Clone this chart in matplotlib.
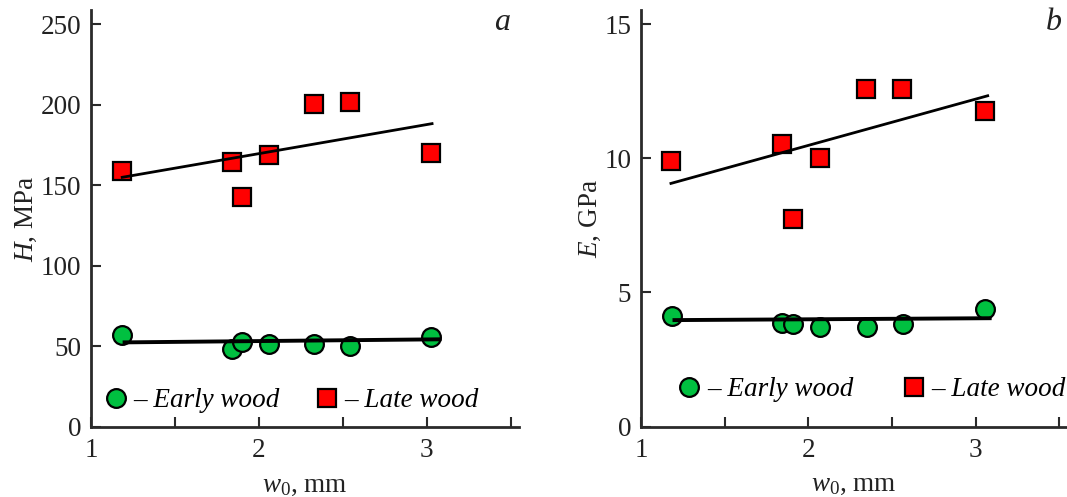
import numpy as np
import matplotlib
matplotlib.use("Agg")
import matplotlib.pyplot as plt

plt.rcParams['font.family'] = ['Liberation Serif', 'DejaVu Serif']
plt.rcParams['mathtext.fontset'] = 'custom'
plt.rcParams['mathtext.rm'] = 'Liberation Serif'
plt.rcParams['mathtext.it'] = 'Liberation Serif:italic'

# Panel a: hardness H (MPa) vs w0 (mm)
w0_H_early = [1.186, 1.841, 1.901, 2.061, 2.326, 2.546, 3.028]
H_early = [57.1, 48.4, 52.9, 51.3, 51.3, 50.2, 56.0]
w0_H_late = [1.186, 1.841, 1.897, 2.061, 2.326, 2.546, 3.028]
H_late = [159.0, 164.2, 142.5, 168.7, 200.6, 201.4, 169.8]
# fit lines (end points)
fitH_late_x = [1.186, 3.032]
fitH_late_y = [154.9, 188.2]
fitH_early_x = [1.20, 3.077]
fitH_early_y = [52.5, 54.4]

# Panel b: modulus E (GPa) vs w0 (mm)
w0_E_early = [1.183, 1.844, 1.909, 2.070, 2.349, 2.566, 3.054]
E_early = [4.13, 3.85, 3.82, 3.72, 3.72, 3.82, 4.37]
w0_E_late = [1.179, 1.840, 1.909, 2.069, 2.345, 2.562, 3.055]
E_late = [9.91, 10.53, 7.74, 10.01, 12.60, 12.60, 11.78]
fitE_late_x = [1.179, 3.072]
fitE_late_y = [9.07, 12.34]
fitE_early_x = [1.20, 3.084]
fitE_early_y = [3.97, 4.04]

green = '#00c040'
red = '#ff0000'
axcol = '#2a2a2a'
fs = 19.5

fig = plt.figure(figsize=(10.67, 4.97), dpi=100)
axA = fig.add_axes([91/1067, 1 - 427/497, 428/1067, 417/497])
axB = fig.add_axes([641/1067, 1 - 426.5/497, 425/1067, 416.5/497])


def style(ax, xlim, ylim, yticks):
    ax.set_xlim(*xlim)
    ax.set_ylim(*ylim)
    for s in ['top', 'right']:
        ax.spines[s].set_visible(False)
    for s in ['left', 'bottom']:
        ax.spines[s].set_linewidth(2)
        ax.spines[s].set_color(axcol)
    ax.set_xticks([1, 2, 3])
    ax.set_xticks([1.5, 2.5, 3.5], minor=True)
    ax.set_yticks(yticks)
    ax.tick_params(which='both', direction='in', length=7, width=1.5,
                   color=axcol, labelsize=fs, labelcolor='#222222')
    ax.tick_params(axis='x', pad=8)
    ax.tick_params(axis='y', pad=7)


def panel(ax, xe, ye, xl, yl, fxl, fyl, fxe, fye):
    ax.plot(xe, ye, 'o', ms=13.5, mfc=green, mec='black', mew=1.6,
            ls='none', label='– Early wood', zorder=3)
    ax.plot(xl, yl, 's', ms=13, mfc=red, mec='black', mew=1.6,
            ls='none', label='– Late wood', zorder=3)
    ax.plot(fxl, fyl, color='black', lw=2, zorder=4)
    ax.plot(fxe, fye, color='black', lw=2.8, zorder=4)


panel(axA, w0_H_early, H_early, w0_H_late, H_late,
      fitH_late_x, fitH_late_y, fitH_early_x, fitH_early_y)
style(axA, (1, 3.55), (0, 258.7), [0, 50, 100, 150, 200, 250])
axA.set_ylabel(r'$H$, MPa', fontsize=fs, color='#222222', labelpad=1)
axA.set_xlabel(r'$w_\mathrm{0}$, mm', fontsize=fs, color='#222222', labelpad=7)
fig.text(510/1067, 1 - 8/497, 'a', fontsize=23,
         style='italic', ha='right', va='top', color='#222222')
axA.legend(loc='lower left', bbox_to_anchor=(-0.015, -0.012), ncol=2,
           frameon=False, handlelength=0.9, handletextpad=0.2,
           columnspacing=1.28, borderaxespad=0.3, prop={'style': 'italic', 'size': fs})

panel(axB, w0_E_early, E_early, w0_E_late, E_late,
      fitE_late_x, fitE_late_y, fitE_early_x, fitE_early_y)
style(axB, (1, 3.54), (0, 15.54), [0, 5, 10, 15])
axB.set_ylabel(r'$E$, GPa', fontsize=fs, color='#222222', labelpad=1)
axB.set_xlabel(r'$w_\mathrm{0}$, mm', fontsize=fs, color='#222222', labelpad=7)
fig.text(1062/1067, 1 - 8/497, 'b', fontsize=23,
         style='italic', ha='right', va='top', color='#222222')
axB.legend(loc='lower left', bbox_to_anchor=(0.04, 0.013), ncol=2,
           frameon=False, handlelength=0.9, handletextpad=0.2,
           columnspacing=1.8, borderaxespad=0.3, prop={'style': 'italic', 'size': fs})

fig.savefig('out.png', dpi=100)
